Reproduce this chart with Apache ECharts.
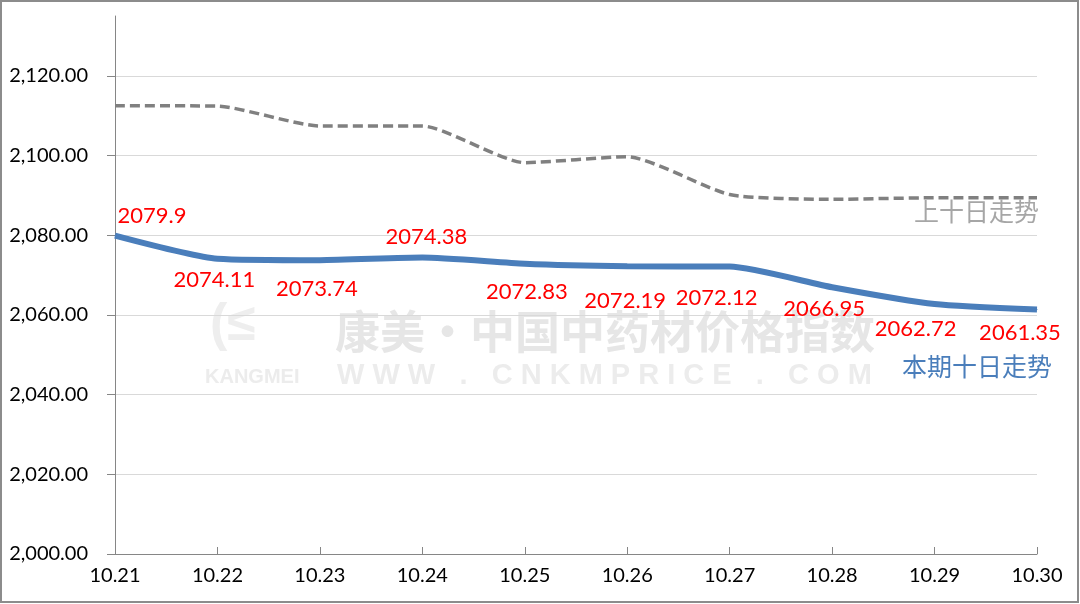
<!DOCTYPE html>
<html>
<head>
<meta charset="utf-8">
<script src="https://cdn.jsdelivr.net/npm/echarts@6/dist/echarts.min.js"></script>
<style>html,body{margin:0;padding:0;background:#fff}#c{width:1080px;height:604px}</style>
</head>
<body>
<div id="c"></div>
<script>
const categories = ['10.21','10.22','10.23','10.24','10.25','10.26','10.27','10.28','10.29','10.30'];
const currentValues = [2079.9, 2074.11, 2073.74, 2074.38, 2072.83, 2072.19, 2072.12, 2066.95, 2062.72, 2061.35];
const previousValues = [2112.5, 2112.4, 2107.4, 2107.4, 2098.2, 2099.7, 2090.2, 2089.0, 2089.4, 2089.4];
const currentName = '本期十日走势';
const previousName = '上十日走势';
const labelOffsets = [[37,-20],[-3,21],[-3,29],[4,-21],[2,28],[-2,35],[-13,31],[-8,22],[-19,25],[-17,23]];

const chart = echarts.init(document.getElementById('c'), null, {renderer:'canvas'});
const numFont = 'Lato, "Noto Sans", sans-serif';
const cjkFont = '"Noto Sans CJK SC", sans-serif';

chart.setOption({
  animation: false,
  backgroundColor: '#fff',
  grid: {left: 115, right: 43, top: 16, bottom: 50, containLabel: false},
  xAxis: {
    type: 'category',
    data: categories,
    boundaryGap: false,
    axisLine: {lineStyle: {color: '#868686', width: 1}},
    axisTick: {inside: true, length: 7, lineStyle: {color: '#868686'}},
    axisLabel: {color: '#000', fontSize: 20, fontFamily: numFont, margin: 12}
  },
  yAxis: {
    type: 'value',
    min: 2000, max: 2135, interval: 20,
    axisLine: {show: true, lineStyle: {color: '#868686', width: 1}},
    axisTick: {show: true, length: 8, lineStyle: {color: '#868686'}},
    axisLabel: {
      color: '#000', fontSize: 20, fontFamily: numFont, margin: 27, showMaxLabel: false,
      formatter: v => (v % 20 === 0) ? v.toLocaleString('en-US', {minimumFractionDigits: 2, maximumFractionDigits: 2}) : ''
    },
    splitLine: {show: true, showMaxLine: false, lineStyle: {color: '#d9d9d9', width: 1}}
  },
  graphic: [
    {type: 'rect', z: -10, silent: true, shape: {x: 1, y: 1, width: 1077, height: 601},
     style: {fill: 'none', stroke: '#8c8c8c', lineWidth: 2}},
    {type: 'text', z: -5, silent: true, left: 335, top: 309,
     style: {text: '康美·中国中药材价格指数', font: 'bold 45px "Noto Sans CJK SC"', fill: '#e6e6e6'}},
    {type: 'text', z: -5, silent: true, left: 205, top: 367,
     style: {text: 'KANGMEI', font: 'bold 20px "Liberation Sans"', fill: '#ececec'}},
    {type: 'text', z: -5, silent: true, left: 337, top: 361,
     style: {text: 'W W W   .   C N K M P R I C E   .   C O M', font: 'bold 29px "Liberation Sans"', fill: '#ececec'}},
    {type: 'text', z: -5, silent: true, left: 210, top: 300,
     style: {text: '(≤', font: 'bold 52px "Liberation Sans"', fill: '#eeeeee'}},
    {type: 'text', z: 10, silent: true, right: 41, top: 199,
     style: {text: previousName, font: '25px ' + cjkFont, fill: '#a6a6a6'}},
    {type: 'text', z: 10, silent: true, right: 28, top: 354,
     style: {text: currentName, font: '25px ' + cjkFont, fill: '#4a7ebb'}}
  ],
  series: [
    {
      name: previousName,
      type: 'line',
      data: previousValues,
      smooth: 0.2,
      symbol: 'none',
      lineStyle: {color: '#808080', width: 3.5, type: [10, 5]},
      z: 2
    },
    {
      name: currentName,
      type: 'line',
      data: currentValues.map((v, i) => ({
        value: v,
        label: {offset: labelOffsets[i]}
      })),
      smooth: 0.2,
      symbol: 'circle',
      symbolSize: 1,
      itemStyle: {color: '#4a7ebb'},
      lineStyle: {color: '#4a7ebb', width: 6},
      label: {
        show: true, position: 'inside', align: 'center', verticalAlign: 'middle',
        color: '#ff0000', fontSize: 22, fontFamily: numFont,
        formatter: p => String(p.value)
      },
      z: 3
    }
  ]
});
</script>
</body>
</html>
